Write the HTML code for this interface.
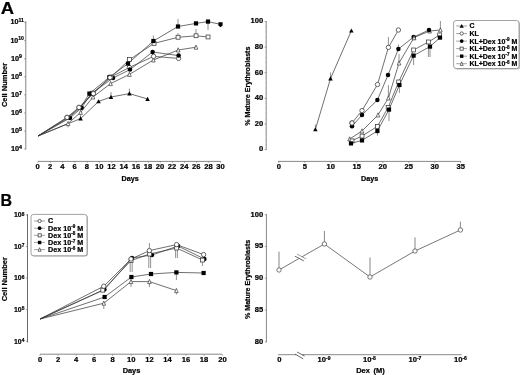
<!DOCTYPE html>
<html lang="en"><head><meta charset="utf-8"><title>Figure</title>
<style>html,body{margin:0;padding:0;background:#fff}svg{display:block;will-change:transform;transform:translateZ(0)}text{stroke:#000;stroke-width:.22px;stroke-linejoin:round}</style></head>
<body>
<svg width="520" height="375" viewBox="0 0 520 375" font-family='"Liberation Sans", sans-serif' font-weight="bold" fill="#000">
<rect width="520" height="375" fill="#fff"/>
<text x="0.0" y="0.0" font-size="16.8" text-anchor="start" transform="translate(0.7,13.6) scale(1.1,1)">A</text>
<text x="0.0" y="0.0" font-size="16.3" text-anchor="start" transform="translate(0.4,206) scale(0.98,1)">B</text>
<line x1="25.8" y1="21.0" x2="25.8" y2="149.5" stroke="#6a6a6a" stroke-width="0.8"/>
<line x1="24.2" y1="149.0" x2="25.8" y2="149.0" stroke="#6a6a6a" stroke-width="0.6"/>
<text x="10.9" y="150.9" font-size="7.6" text-anchor="start" textLength="11.1" lengthAdjust="spacingAndGlyphs">10<tspan font-size="5.5" dy="-2.2">4</tspan></text>
<line x1="24.9" y1="143.6" x2="25.8" y2="143.6" stroke="#999" stroke-width="0.4"/>
<line x1="24.9" y1="140.4" x2="25.8" y2="140.4" stroke="#999" stroke-width="0.4"/>
<line x1="24.9" y1="138.1" x2="25.8" y2="138.1" stroke="#999" stroke-width="0.4"/>
<line x1="24.9" y1="136.4" x2="25.8" y2="136.4" stroke="#999" stroke-width="0.4"/>
<line x1="24.9" y1="134.9" x2="25.8" y2="134.9" stroke="#999" stroke-width="0.4"/>
<line x1="24.9" y1="133.7" x2="25.8" y2="133.7" stroke="#999" stroke-width="0.4"/>
<line x1="24.9" y1="132.7" x2="25.8" y2="132.7" stroke="#999" stroke-width="0.4"/>
<line x1="24.9" y1="131.8" x2="25.8" y2="131.8" stroke="#999" stroke-width="0.4"/>
<line x1="24.2" y1="130.9" x2="25.8" y2="130.9" stroke="#6a6a6a" stroke-width="0.6"/>
<text x="10.9" y="132.8" font-size="7.6" text-anchor="start" textLength="11.1" lengthAdjust="spacingAndGlyphs">10<tspan font-size="5.5" dy="-2.2">5</tspan></text>
<line x1="24.9" y1="125.5" x2="25.8" y2="125.5" stroke="#999" stroke-width="0.4"/>
<line x1="24.9" y1="122.3" x2="25.8" y2="122.3" stroke="#999" stroke-width="0.4"/>
<line x1="24.9" y1="120.1" x2="25.8" y2="120.1" stroke="#999" stroke-width="0.4"/>
<line x1="24.9" y1="118.3" x2="25.8" y2="118.3" stroke="#999" stroke-width="0.4"/>
<line x1="24.9" y1="116.9" x2="25.8" y2="116.9" stroke="#999" stroke-width="0.4"/>
<line x1="24.9" y1="115.7" x2="25.8" y2="115.7" stroke="#999" stroke-width="0.4"/>
<line x1="24.9" y1="114.6" x2="25.8" y2="114.6" stroke="#999" stroke-width="0.4"/>
<line x1="24.9" y1="113.7" x2="25.8" y2="113.7" stroke="#999" stroke-width="0.4"/>
<line x1="24.2" y1="112.9" x2="25.8" y2="112.9" stroke="#6a6a6a" stroke-width="0.6"/>
<text x="10.9" y="114.8" font-size="7.6" text-anchor="start" textLength="11.1" lengthAdjust="spacingAndGlyphs">10<tspan font-size="5.5" dy="-2.2">6</tspan></text>
<line x1="24.9" y1="107.4" x2="25.8" y2="107.4" stroke="#999" stroke-width="0.4"/>
<line x1="24.9" y1="104.2" x2="25.8" y2="104.2" stroke="#999" stroke-width="0.4"/>
<line x1="24.9" y1="102.0" x2="25.8" y2="102.0" stroke="#999" stroke-width="0.4"/>
<line x1="24.9" y1="100.2" x2="25.8" y2="100.2" stroke="#999" stroke-width="0.4"/>
<line x1="24.9" y1="98.8" x2="25.8" y2="98.8" stroke="#999" stroke-width="0.4"/>
<line x1="24.9" y1="97.6" x2="25.8" y2="97.6" stroke="#999" stroke-width="0.4"/>
<line x1="24.9" y1="96.5" x2="25.8" y2="96.5" stroke="#999" stroke-width="0.4"/>
<line x1="24.9" y1="95.6" x2="25.8" y2="95.6" stroke="#999" stroke-width="0.4"/>
<line x1="24.2" y1="94.8" x2="25.8" y2="94.8" stroke="#6a6a6a" stroke-width="0.6"/>
<text x="10.9" y="96.7" font-size="7.6" text-anchor="start" textLength="11.1" lengthAdjust="spacingAndGlyphs">10<tspan font-size="5.5" dy="-2.2">7</tspan></text>
<line x1="24.9" y1="89.4" x2="25.8" y2="89.4" stroke="#999" stroke-width="0.4"/>
<line x1="24.9" y1="86.2" x2="25.8" y2="86.2" stroke="#999" stroke-width="0.4"/>
<line x1="24.9" y1="83.9" x2="25.8" y2="83.9" stroke="#999" stroke-width="0.4"/>
<line x1="24.9" y1="82.2" x2="25.8" y2="82.2" stroke="#999" stroke-width="0.4"/>
<line x1="24.9" y1="80.7" x2="25.8" y2="80.7" stroke="#999" stroke-width="0.4"/>
<line x1="24.9" y1="79.5" x2="25.8" y2="79.5" stroke="#999" stroke-width="0.4"/>
<line x1="24.9" y1="78.5" x2="25.8" y2="78.5" stroke="#999" stroke-width="0.4"/>
<line x1="24.9" y1="77.5" x2="25.8" y2="77.5" stroke="#999" stroke-width="0.4"/>
<line x1="24.2" y1="76.7" x2="25.8" y2="76.7" stroke="#6a6a6a" stroke-width="0.6"/>
<text x="10.9" y="78.6" font-size="7.6" text-anchor="start" textLength="11.1" lengthAdjust="spacingAndGlyphs">10<tspan font-size="5.5" dy="-2.2">8</tspan></text>
<line x1="24.9" y1="71.3" x2="25.8" y2="71.3" stroke="#999" stroke-width="0.4"/>
<line x1="24.9" y1="68.1" x2="25.8" y2="68.1" stroke="#999" stroke-width="0.4"/>
<line x1="24.9" y1="65.8" x2="25.8" y2="65.8" stroke="#999" stroke-width="0.4"/>
<line x1="24.9" y1="64.1" x2="25.8" y2="64.1" stroke="#999" stroke-width="0.4"/>
<line x1="24.9" y1="62.7" x2="25.8" y2="62.7" stroke="#999" stroke-width="0.4"/>
<line x1="24.9" y1="61.4" x2="25.8" y2="61.4" stroke="#999" stroke-width="0.4"/>
<line x1="24.9" y1="60.4" x2="25.8" y2="60.4" stroke="#999" stroke-width="0.4"/>
<line x1="24.9" y1="59.5" x2="25.8" y2="59.5" stroke="#999" stroke-width="0.4"/>
<line x1="24.2" y1="58.7" x2="25.8" y2="58.7" stroke="#6a6a6a" stroke-width="0.6"/>
<text x="10.9" y="60.6" font-size="7.6" text-anchor="start" textLength="11.1" lengthAdjust="spacingAndGlyphs">10<tspan font-size="5.5" dy="-2.2">9</tspan></text>
<line x1="24.9" y1="53.2" x2="25.8" y2="53.2" stroke="#999" stroke-width="0.4"/>
<line x1="24.9" y1="50.0" x2="25.8" y2="50.0" stroke="#999" stroke-width="0.4"/>
<line x1="24.9" y1="47.8" x2="25.8" y2="47.8" stroke="#999" stroke-width="0.4"/>
<line x1="24.9" y1="46.0" x2="25.8" y2="46.0" stroke="#999" stroke-width="0.4"/>
<line x1="24.9" y1="44.6" x2="25.8" y2="44.6" stroke="#999" stroke-width="0.4"/>
<line x1="24.9" y1="43.4" x2="25.8" y2="43.4" stroke="#999" stroke-width="0.4"/>
<line x1="24.9" y1="42.3" x2="25.8" y2="42.3" stroke="#999" stroke-width="0.4"/>
<line x1="24.9" y1="41.4" x2="25.8" y2="41.4" stroke="#999" stroke-width="0.4"/>
<line x1="24.2" y1="40.6" x2="25.8" y2="40.6" stroke="#6a6a6a" stroke-width="0.6"/>
<text x="10.4" y="42.5" font-size="7.6" text-anchor="start" textLength="13.5" lengthAdjust="spacingAndGlyphs">10<tspan font-size="5.5" dy="-2.2">10</tspan></text>
<line x1="24.9" y1="35.1" x2="25.8" y2="35.1" stroke="#999" stroke-width="0.4"/>
<line x1="24.9" y1="32.0" x2="25.8" y2="32.0" stroke="#999" stroke-width="0.4"/>
<line x1="24.9" y1="29.7" x2="25.8" y2="29.7" stroke="#999" stroke-width="0.4"/>
<line x1="24.9" y1="27.9" x2="25.8" y2="27.9" stroke="#999" stroke-width="0.4"/>
<line x1="24.9" y1="26.5" x2="25.8" y2="26.5" stroke="#999" stroke-width="0.4"/>
<line x1="24.9" y1="25.3" x2="25.8" y2="25.3" stroke="#999" stroke-width="0.4"/>
<line x1="24.9" y1="24.3" x2="25.8" y2="24.3" stroke="#999" stroke-width="0.4"/>
<line x1="24.9" y1="23.3" x2="25.8" y2="23.3" stroke="#999" stroke-width="0.4"/>
<line x1="24.2" y1="22.5" x2="25.8" y2="22.5" stroke="#6a6a6a" stroke-width="0.6"/>
<text x="10.4" y="24.4" font-size="7.6" text-anchor="start" textLength="13.5" lengthAdjust="spacingAndGlyphs">10<tspan font-size="5.5" dy="-2.2">11</tspan></text>
<line x1="38.0" y1="161.4" x2="220.6" y2="161.4" stroke="#6a6a6a" stroke-width="0.8"/>
<line x1="38.0" y1="161.4" x2="38.0" y2="162.8" stroke="#6a6a6a" stroke-width="0.6"/>
<text x="37.7" y="169.0" font-size="7.6" text-anchor="middle" >0</text>
<line x1="50.3" y1="161.4" x2="50.3" y2="162.8" stroke="#6a6a6a" stroke-width="0.6"/>
<text x="50.0" y="169.0" font-size="7.6" text-anchor="middle" >2</text>
<line x1="62.6" y1="161.4" x2="62.6" y2="162.8" stroke="#6a6a6a" stroke-width="0.6"/>
<text x="62.3" y="169.0" font-size="7.6" text-anchor="middle" >4</text>
<line x1="74.9" y1="161.4" x2="74.9" y2="162.8" stroke="#6a6a6a" stroke-width="0.6"/>
<text x="74.6" y="169.0" font-size="7.6" text-anchor="middle" >6</text>
<line x1="87.2" y1="161.4" x2="87.2" y2="162.8" stroke="#6a6a6a" stroke-width="0.6"/>
<text x="86.9" y="169.0" font-size="7.6" text-anchor="middle" >8</text>
<line x1="99.5" y1="161.4" x2="99.5" y2="162.8" stroke="#6a6a6a" stroke-width="0.6"/>
<text x="99.2" y="169.0" font-size="7.6" text-anchor="middle" >10</text>
<line x1="111.8" y1="161.4" x2="111.8" y2="162.8" stroke="#6a6a6a" stroke-width="0.6"/>
<text x="111.5" y="169.0" font-size="7.6" text-anchor="middle" >12</text>
<line x1="124.1" y1="161.4" x2="124.1" y2="162.8" stroke="#6a6a6a" stroke-width="0.6"/>
<text x="123.8" y="169.0" font-size="7.6" text-anchor="middle" >14</text>
<line x1="136.2" y1="161.4" x2="136.2" y2="162.8" stroke="#6a6a6a" stroke-width="0.6"/>
<text x="135.9" y="169.0" font-size="7.6" text-anchor="middle" >16</text>
<line x1="148.3" y1="161.4" x2="148.3" y2="162.8" stroke="#6a6a6a" stroke-width="0.6"/>
<text x="148.0" y="169.0" font-size="7.6" text-anchor="middle" >18</text>
<line x1="160.3" y1="161.4" x2="160.3" y2="162.8" stroke="#6a6a6a" stroke-width="0.6"/>
<text x="160.0" y="169.0" font-size="7.6" text-anchor="middle" >20</text>
<line x1="172.4" y1="161.4" x2="172.4" y2="162.8" stroke="#6a6a6a" stroke-width="0.6"/>
<text x="172.1" y="169.0" font-size="7.6" text-anchor="middle" >22</text>
<line x1="184.5" y1="161.4" x2="184.5" y2="162.8" stroke="#6a6a6a" stroke-width="0.6"/>
<text x="184.2" y="169.0" font-size="7.6" text-anchor="middle" >24</text>
<line x1="196.6" y1="161.4" x2="196.6" y2="162.8" stroke="#6a6a6a" stroke-width="0.6"/>
<text x="196.3" y="169.0" font-size="7.6" text-anchor="middle" >26</text>
<line x1="208.7" y1="161.4" x2="208.7" y2="162.8" stroke="#6a6a6a" stroke-width="0.6"/>
<text x="208.4" y="169.0" font-size="7.6" text-anchor="middle" >28</text>
<line x1="220.7" y1="161.4" x2="220.7" y2="162.8" stroke="#6a6a6a" stroke-width="0.6"/>
<text x="220.4" y="169.0" font-size="7.6" text-anchor="middle" >30</text>
<text x="130.2" y="180.9" font-size="7.2" text-anchor="middle" >Days</text>
<text x="0.0" y="0.0" font-size="7.5" text-anchor="middle" transform="translate(7.0,85) rotate(-90)">Cell Number</text>
<polyline points="38.0,136.0 80.6,118.6 98.6,101.4 111.0,97.0 129.4,93.6 147.6,99.0" fill="none" stroke="#383838" stroke-width="0.72" stroke-linejoin="round"/>
<line x1="80.6" y1="118.0" x2="80.6" y2="114.5" stroke="#555" stroke-width="0.65"/>
<line x1="111.0" y1="97.0" x2="111.0" y2="92.0" stroke="#555" stroke-width="0.65"/>
<line x1="129.4" y1="93.0" x2="129.4" y2="88.6" stroke="#555" stroke-width="0.65"/>
<polygon points="80.6,116.3 82.8,120.5 78.3,120.5" fill="#000"/>
<polygon points="98.6,99.2 100.8,103.3 96.3,103.3" fill="#000"/>
<polygon points="111.0,94.8 113.2,98.9 108.8,98.9" fill="#000"/>
<polygon points="129.4,91.3 131.7,95.5 127.2,95.5" fill="#000"/>
<polygon points="147.6,96.8 149.8,100.9 145.3,100.9" fill="#000"/>
<polyline points="38.0,136.0 68.0,123.6 80.6,112.4 93.0,97.0 110.6,83.6 129.4,74.4 153.4,60.0 178.2,50.0 196.0,47.2" fill="none" stroke="#383838" stroke-width="0.72" stroke-linejoin="round"/>
<line x1="68.0" y1="123.0" x2="68.0" y2="127.4" stroke="#555" stroke-width="0.65"/>
<polygon points="68.0,121.4 69.8,125.6 66.2,125.6" fill="#fff" stroke="#383838" stroke-width="0.7"/>
<polygon points="80.6,110.2 82.4,114.4 78.8,114.4" fill="#fff" stroke="#383838" stroke-width="0.7"/>
<polygon points="93.0,94.8 94.8,99.0 91.2,99.0" fill="#fff" stroke="#383838" stroke-width="0.7"/>
<polygon points="110.6,81.4 112.4,85.6 108.8,85.6" fill="#fff" stroke="#383838" stroke-width="0.7"/>
<polygon points="129.4,72.2 131.2,76.4 127.6,76.4" fill="#fff" stroke="#383838" stroke-width="0.7"/>
<polygon points="153.4,57.8 155.2,62.0 151.6,62.0" fill="#fff" stroke="#383838" stroke-width="0.7"/>
<polygon points="178.2,47.8 180.0,52.0 176.4,52.0" fill="#fff" stroke="#383838" stroke-width="0.7"/>
<polygon points="196.0,45.0 197.8,49.2 194.2,49.2" fill="#fff" stroke="#383838" stroke-width="0.7"/>
<polyline points="38.0,136.0 67.0,117.4 79.0,107.4 93.4,93.6 110.0,77.6 129.4,67.4 153.6,56.4 178.6,58.4" fill="none" stroke="#383838" stroke-width="0.72" stroke-linejoin="round"/>
<circle cx="67.0" cy="117.4" r="2.2" fill="#fff" stroke="#383838" stroke-width="0.75"/>
<circle cx="79.0" cy="107.4" r="2.2" fill="#fff" stroke="#383838" stroke-width="0.75"/>
<circle cx="93.4" cy="93.6" r="2.2" fill="#fff" stroke="#383838" stroke-width="0.75"/>
<circle cx="110.0" cy="77.6" r="2.2" fill="#fff" stroke="#383838" stroke-width="0.75"/>
<circle cx="129.4" cy="67.4" r="2.2" fill="#fff" stroke="#383838" stroke-width="0.75"/>
<circle cx="153.6" cy="56.4" r="2.2" fill="#fff" stroke="#383838" stroke-width="0.75"/>
<circle cx="178.6" cy="58.4" r="2.2" fill="#fff" stroke="#383838" stroke-width="0.75"/>
<polyline points="38.0,136.0 70.0,118.0 81.6,107.8 91.0,93.8 113.0,78.0 130.0,69.6 152.6,52.0 178.6,55.6" fill="none" stroke="#383838" stroke-width="0.72" stroke-linejoin="round"/>
<circle cx="70.0" cy="118.0" r="2.25" fill="#000"/>
<circle cx="81.6" cy="107.8" r="2.25" fill="#000"/>
<circle cx="91.0" cy="93.8" r="2.25" fill="#000"/>
<circle cx="113.0" cy="78.0" r="2.25" fill="#000"/>
<circle cx="130.0" cy="69.6" r="2.25" fill="#000"/>
<circle cx="152.6" cy="52.0" r="2.25" fill="#000"/>
<circle cx="178.6" cy="55.6" r="2.25" fill="#000"/>
<polyline points="38.0,136.0 68.0,117.2 80.0,107.2 92.6,93.2 111.0,77.0 129.6,59.6 154.0,43.4 178.0,37.3 196.0,35.8 208.0,37.0" fill="none" stroke="#383838" stroke-width="0.72" stroke-linejoin="round"/>
<line x1="178.0" y1="37.0" x2="178.0" y2="33.0" stroke="#555" stroke-width="0.65"/>
<line x1="196.0" y1="35.0" x2="196.0" y2="29.0" stroke="#555" stroke-width="0.65"/>
<rect x="90.6" y="91.2" width="3.9" height="3.9" fill="#fff" stroke="#383838" stroke-width="0.75"/>
<rect x="109.0" y="75.0" width="3.9" height="3.9" fill="#fff" stroke="#383838" stroke-width="0.75"/>
<rect x="127.6" y="57.6" width="3.9" height="3.9" fill="#fff" stroke="#383838" stroke-width="0.75"/>
<rect x="152.1" y="41.4" width="3.9" height="3.9" fill="#fff" stroke="#383838" stroke-width="0.75"/>
<rect x="176.1" y="35.3" width="3.9" height="3.9" fill="#fff" stroke="#383838" stroke-width="0.75"/>
<rect x="194.1" y="33.8" width="3.9" height="3.9" fill="#fff" stroke="#383838" stroke-width="0.75"/>
<rect x="206.1" y="35.0" width="3.9" height="3.9" fill="#fff" stroke="#383838" stroke-width="0.75"/>
<polyline points="208.0,21.6 220.5,24.4" fill="none" stroke="#383838" stroke-width="0.72" stroke-linejoin="round"/>
<polygon points="218.4,22.2 222.6,22.2 222.6,25.4 220.5,27.2 218.4,25.4" fill="#000"/>
<polyline points="38.0,136.0 68.6,117.8 80.4,107.8 89.4,93.6 109.4,77.2 128.0,63.6 153.4,41.0 178.0,26.5 196.0,23.4 208.0,21.6" fill="none" stroke="#383838" stroke-width="0.72" stroke-linejoin="round"/>
<line x1="153.4" y1="41.0" x2="153.4" y2="35.5" stroke="#555" stroke-width="0.65"/>
<line x1="178.0" y1="26.0" x2="178.0" y2="19.0" stroke="#555" stroke-width="0.65"/>
<line x1="208.0" y1="22.0" x2="208.0" y2="30.0" stroke="#555" stroke-width="0.65"/>
<rect x="87.3" y="91.5" width="4.2" height="4.2" fill="#000"/>
<rect x="107.3" y="75.1" width="4.2" height="4.2" fill="#000"/>
<rect x="125.9" y="61.5" width="4.2" height="4.2" fill="#000"/>
<rect x="151.3" y="38.9" width="4.2" height="4.2" fill="#000"/>
<rect x="175.9" y="24.4" width="4.2" height="4.2" fill="#000"/>
<rect x="193.9" y="21.3" width="4.2" height="4.2" fill="#000"/>
<rect x="205.9" y="19.5" width="4.2" height="4.2" fill="#000"/>
<circle cx="67.0" cy="117.4" r="2.2" fill="#fff" stroke="#383838" stroke-width="0.75"/>
<circle cx="79.0" cy="107.4" r="2.2" fill="#fff" stroke="#383838" stroke-width="0.75"/>
<circle cx="93.4" cy="93.6" r="2.2" fill="#fff" stroke="#383838" stroke-width="0.75"/>
<circle cx="110.0" cy="77.6" r="2.2" fill="#fff" stroke="#383838" stroke-width="0.75"/>
<line x1="266.2" y1="21.0" x2="266.2" y2="150.0" stroke="#6a6a6a" stroke-width="0.8"/>
<line x1="264.6" y1="149.6" x2="266.2" y2="149.6" stroke="#6a6a6a" stroke-width="0.6"/>
<text x="263.2" y="151.4" font-size="7.6" text-anchor="end" >0</text>
<line x1="264.6" y1="124.0" x2="266.2" y2="124.0" stroke="#6a6a6a" stroke-width="0.6"/>
<text x="263.2" y="125.8" font-size="7.6" text-anchor="end" >20</text>
<line x1="264.6" y1="98.4" x2="266.2" y2="98.4" stroke="#6a6a6a" stroke-width="0.6"/>
<text x="263.2" y="100.2" font-size="7.6" text-anchor="end" >40</text>
<line x1="264.6" y1="72.7" x2="266.2" y2="72.7" stroke="#6a6a6a" stroke-width="0.6"/>
<text x="263.2" y="74.5" font-size="7.6" text-anchor="end" >60</text>
<line x1="264.6" y1="47.1" x2="266.2" y2="47.1" stroke="#6a6a6a" stroke-width="0.6"/>
<text x="263.2" y="48.9" font-size="7.6" text-anchor="end" >80</text>
<line x1="264.6" y1="21.5" x2="266.2" y2="21.5" stroke="#6a6a6a" stroke-width="0.6"/>
<text x="263.2" y="23.3" font-size="7.6" text-anchor="end" >100</text>
<line x1="265.3" y1="149.6" x2="266.2" y2="149.6" stroke="#999" stroke-width="0.4"/>
<line x1="265.3" y1="144.5" x2="266.2" y2="144.5" stroke="#999" stroke-width="0.4"/>
<line x1="265.3" y1="139.4" x2="266.2" y2="139.4" stroke="#999" stroke-width="0.4"/>
<line x1="265.3" y1="134.2" x2="266.2" y2="134.2" stroke="#999" stroke-width="0.4"/>
<line x1="265.3" y1="129.1" x2="266.2" y2="129.1" stroke="#999" stroke-width="0.4"/>
<line x1="265.3" y1="124.0" x2="266.2" y2="124.0" stroke="#999" stroke-width="0.4"/>
<line x1="265.3" y1="118.9" x2="266.2" y2="118.9" stroke="#999" stroke-width="0.4"/>
<line x1="265.3" y1="113.7" x2="266.2" y2="113.7" stroke="#999" stroke-width="0.4"/>
<line x1="265.3" y1="108.6" x2="266.2" y2="108.6" stroke="#999" stroke-width="0.4"/>
<line x1="265.3" y1="103.5" x2="266.2" y2="103.5" stroke="#999" stroke-width="0.4"/>
<line x1="265.3" y1="98.4" x2="266.2" y2="98.4" stroke="#999" stroke-width="0.4"/>
<line x1="265.3" y1="93.2" x2="266.2" y2="93.2" stroke="#999" stroke-width="0.4"/>
<line x1="265.3" y1="88.1" x2="266.2" y2="88.1" stroke="#999" stroke-width="0.4"/>
<line x1="265.3" y1="83.0" x2="266.2" y2="83.0" stroke="#999" stroke-width="0.4"/>
<line x1="265.3" y1="77.9" x2="266.2" y2="77.9" stroke="#999" stroke-width="0.4"/>
<line x1="265.3" y1="72.7" x2="266.2" y2="72.7" stroke="#999" stroke-width="0.4"/>
<line x1="265.3" y1="67.6" x2="266.2" y2="67.6" stroke="#999" stroke-width="0.4"/>
<line x1="265.3" y1="62.5" x2="266.2" y2="62.5" stroke="#999" stroke-width="0.4"/>
<line x1="265.3" y1="57.4" x2="266.2" y2="57.4" stroke="#999" stroke-width="0.4"/>
<line x1="265.3" y1="52.2" x2="266.2" y2="52.2" stroke="#999" stroke-width="0.4"/>
<line x1="265.3" y1="47.1" x2="266.2" y2="47.1" stroke="#999" stroke-width="0.4"/>
<line x1="265.3" y1="42.0" x2="266.2" y2="42.0" stroke="#999" stroke-width="0.4"/>
<line x1="265.3" y1="36.9" x2="266.2" y2="36.9" stroke="#999" stroke-width="0.4"/>
<line x1="265.3" y1="31.7" x2="266.2" y2="31.7" stroke="#999" stroke-width="0.4"/>
<line x1="265.3" y1="26.6" x2="266.2" y2="26.6" stroke="#999" stroke-width="0.4"/>
<line x1="278.0" y1="161.4" x2="461.0" y2="161.4" stroke="#6a6a6a" stroke-width="0.8"/>
<line x1="278.8" y1="161.6" x2="278.8" y2="163.0" stroke="#6a6a6a" stroke-width="0.6"/>
<text x="278.8" y="169.2" font-size="7.6" text-anchor="middle" >0</text>
<line x1="304.8" y1="161.6" x2="304.8" y2="163.0" stroke="#6a6a6a" stroke-width="0.6"/>
<text x="304.8" y="169.2" font-size="7.6" text-anchor="middle" >5</text>
<line x1="330.8" y1="161.6" x2="330.8" y2="163.0" stroke="#6a6a6a" stroke-width="0.6"/>
<text x="330.8" y="169.2" font-size="7.6" text-anchor="middle" >10</text>
<line x1="356.8" y1="161.6" x2="356.8" y2="163.0" stroke="#6a6a6a" stroke-width="0.6"/>
<text x="356.8" y="169.2" font-size="7.6" text-anchor="middle" >15</text>
<line x1="382.8" y1="161.6" x2="382.8" y2="163.0" stroke="#6a6a6a" stroke-width="0.6"/>
<text x="382.8" y="169.2" font-size="7.6" text-anchor="middle" >20</text>
<line x1="408.8" y1="161.6" x2="408.8" y2="163.0" stroke="#6a6a6a" stroke-width="0.6"/>
<text x="408.8" y="169.2" font-size="7.6" text-anchor="middle" >25</text>
<line x1="434.8" y1="161.6" x2="434.8" y2="163.0" stroke="#6a6a6a" stroke-width="0.6"/>
<text x="434.8" y="169.2" font-size="7.6" text-anchor="middle" >30</text>
<line x1="460.8" y1="161.6" x2="460.8" y2="163.0" stroke="#6a6a6a" stroke-width="0.6"/>
<text x="460.8" y="169.2" font-size="7.6" text-anchor="middle" >35</text>
<text x="369.7" y="180.9" font-size="7.2" text-anchor="middle" >Days</text>
<text x="0.0" y="0.0" font-size="7.1" text-anchor="middle" transform="translate(250.0,86.2) rotate(-90)">% Mature Erythroblasts</text>
<polyline points="315.4,129.4 330.5,78.6 351.4,30.6" fill="none" stroke="#383838" stroke-width="0.72" stroke-linejoin="round"/>
<line x1="315.4" y1="129.0" x2="315.4" y2="124.5" stroke="#555" stroke-width="0.65"/>
<line x1="330.6" y1="78.0" x2="330.6" y2="72.5" stroke="#555" stroke-width="0.65"/>
<polygon points="315.4,127.2 317.6,131.3 313.1,131.3" fill="#000"/>
<polygon points="330.5,76.3 332.8,80.5 328.2,80.5" fill="#000"/>
<polygon points="351.4,28.4 353.6,32.5 349.1,32.5" fill="#000"/>
<polyline points="349.6,139.0 362.0,131.0 378.0,115.0 388.4,98.0 399.0,63.0 414.0,37.6 429.6,31.0 440.4,30.0" fill="none" stroke="#383838" stroke-width="0.72" stroke-linejoin="round"/>
<line x1="388.4" y1="98.0" x2="388.4" y2="85.0" stroke="#555" stroke-width="0.65"/>
<line x1="399.0" y1="63.0" x2="399.0" y2="54.0" stroke="#555" stroke-width="0.65"/>
<line x1="440.4" y1="30.0" x2="440.4" y2="21.0" stroke="#555" stroke-width="0.65"/>
<polygon points="349.6,136.8 351.4,141.0 347.8,141.0" fill="#fff" stroke="#383838" stroke-width="0.7"/>
<polygon points="362.0,128.8 363.8,133.0 360.2,133.0" fill="#fff" stroke="#383838" stroke-width="0.7"/>
<polygon points="378.0,112.8 379.8,117.0 376.2,117.0" fill="#fff" stroke="#383838" stroke-width="0.7"/>
<polygon points="388.4,95.8 390.2,100.0 386.6,100.0" fill="#fff" stroke="#383838" stroke-width="0.7"/>
<polygon points="399.0,60.8 400.8,65.0 397.2,65.0" fill="#fff" stroke="#383838" stroke-width="0.7"/>
<polygon points="414.0,35.4 415.8,39.6 412.2,39.6" fill="#fff" stroke="#383838" stroke-width="0.7"/>
<polygon points="429.6,28.8 431.4,33.0 427.8,33.0" fill="#fff" stroke="#383838" stroke-width="0.7"/>
<polygon points="440.4,27.8 442.2,32.0 438.6,32.0" fill="#fff" stroke="#383838" stroke-width="0.7"/>
<polyline points="352.0,140.8 362.0,136.0 377.4,126.4 388.2,107.4 398.6,82.0 413.6,50.0 428.4,42.0 439.6,35.0" fill="none" stroke="#383838" stroke-width="0.72" stroke-linejoin="round"/>
<line x1="428.4" y1="42.0" x2="428.4" y2="57.0" stroke="#555" stroke-width="0.65"/>
<rect x="350.1" y="138.9" width="3.9" height="3.9" fill="#fff" stroke="#383838" stroke-width="0.75"/>
<rect x="360.1" y="134.1" width="3.9" height="3.9" fill="#fff" stroke="#383838" stroke-width="0.75"/>
<rect x="375.4" y="124.5" width="3.9" height="3.9" fill="#fff" stroke="#383838" stroke-width="0.75"/>
<rect x="386.2" y="105.5" width="3.9" height="3.9" fill="#fff" stroke="#383838" stroke-width="0.75"/>
<rect x="396.7" y="80.0" width="3.9" height="3.9" fill="#fff" stroke="#383838" stroke-width="0.75"/>
<rect x="411.7" y="48.0" width="3.9" height="3.9" fill="#fff" stroke="#383838" stroke-width="0.75"/>
<rect x="426.4" y="40.0" width="3.9" height="3.9" fill="#fff" stroke="#383838" stroke-width="0.75"/>
<rect x="437.7" y="33.0" width="3.9" height="3.9" fill="#fff" stroke="#383838" stroke-width="0.75"/>
<polyline points="351.0,143.4 362.0,140.4 377.4,131.0 389.0,109.6 399.4,85.0 413.6,55.6 430.0,46.6 440.0,37.6" fill="none" stroke="#383838" stroke-width="0.72" stroke-linejoin="round"/>
<line x1="377.4" y1="131.0" x2="377.4" y2="135.6" stroke="#555" stroke-width="0.65"/>
<line x1="389.0" y1="110.0" x2="389.0" y2="121.0" stroke="#555" stroke-width="0.65"/>
<line x1="399.4" y1="85.0" x2="399.4" y2="93.0" stroke="#555" stroke-width="0.65"/>
<line x1="413.6" y1="56.0" x2="413.6" y2="65.0" stroke="#555" stroke-width="0.65"/>
<line x1="430.0" y1="47.0" x2="430.0" y2="57.0" stroke="#555" stroke-width="0.65"/>
<rect x="348.9" y="141.3" width="4.2" height="4.2" fill="#000"/>
<rect x="359.9" y="138.3" width="4.2" height="4.2" fill="#000"/>
<rect x="375.3" y="128.9" width="4.2" height="4.2" fill="#000"/>
<rect x="386.9" y="107.5" width="4.2" height="4.2" fill="#000"/>
<rect x="397.3" y="82.9" width="4.2" height="4.2" fill="#000"/>
<rect x="411.5" y="53.5" width="4.2" height="4.2" fill="#000"/>
<rect x="427.9" y="44.5" width="4.2" height="4.2" fill="#000"/>
<rect x="437.9" y="35.5" width="4.2" height="4.2" fill="#000"/>
<polyline points="352.0,123.0 362.0,110.6 377.5,84.5 388.4,47.4 398.4,30.0" fill="none" stroke="#383838" stroke-width="0.72" stroke-linejoin="round"/>
<line x1="388.4" y1="47.0" x2="388.4" y2="37.0" stroke="#555" stroke-width="0.65"/>
<circle cx="352.0" cy="123.0" r="2.2" fill="#fff" stroke="#383838" stroke-width="0.75"/>
<circle cx="362.0" cy="110.6" r="2.2" fill="#fff" stroke="#383838" stroke-width="0.75"/>
<circle cx="377.5" cy="84.5" r="2.2" fill="#fff" stroke="#383838" stroke-width="0.75"/>
<circle cx="388.4" cy="47.4" r="2.2" fill="#fff" stroke="#383838" stroke-width="0.75"/>
<circle cx="398.4" cy="30.0" r="2.2" fill="#fff" stroke="#383838" stroke-width="0.75"/>
<polyline points="352.0,126.2 362.0,115.0 377.4,100.0 388.0,75.0 398.4,49.0 413.6,37.0 429.0,30.0" fill="none" stroke="#383838" stroke-width="0.72" stroke-linejoin="round"/>
<line x1="398.4" y1="49.0" x2="398.4" y2="44.5" stroke="#555" stroke-width="0.65"/>
<circle cx="352.0" cy="126.2" r="2.25" fill="#000"/>
<circle cx="362.0" cy="115.0" r="2.25" fill="#000"/>
<circle cx="377.4" cy="100.0" r="2.25" fill="#000"/>
<circle cx="388.0" cy="75.0" r="2.25" fill="#000"/>
<circle cx="398.4" cy="49.0" r="2.25" fill="#000"/>
<circle cx="413.6" cy="37.0" r="2.25" fill="#000"/>
<circle cx="429.0" cy="30.0" r="2.25" fill="#000"/>
<circle cx="352.0" cy="123.0" r="2.2" fill="#fff" stroke="#383838" stroke-width="0.75"/>
<polygon points="414.0,35.6 415.8,39.8 412.2,39.8" fill="#fff" stroke="#383838" stroke-width="0.7"/>
<rect x="454.6" y="21.4" width="65.4" height="48" rx="2.5" fill="#bbb"/>
<rect x="453.6" y="20.5" width="65.4" height="48" rx="2.5" fill="#fff" stroke="#8a8a8a" stroke-width="0.8"/>
<line x1="456.2" y1="26.0" x2="467.0" y2="26.0" stroke="#666" stroke-width="0.6"/>
<polygon points="461.7,23.9 463.8,27.7 459.6,27.7" fill="#000"/>
<text x="469.4" y="28.4" font-size="7.0" text-anchor="start" >C</text>
<line x1="456.2" y1="33.5" x2="467.0" y2="33.5" stroke="#666" stroke-width="0.6"/>
<circle cx="461.7" cy="33.5" r="1.65" fill="#fff" stroke="#383838" stroke-width="0.75"/>
<text x="469.4" y="35.9" font-size="7.0" text-anchor="start" >KL</text>
<line x1="456.2" y1="41.1" x2="467.0" y2="41.1" stroke="#666" stroke-width="0.6"/>
<circle cx="461.7" cy="41.1" r="1.85" fill="#000"/>
<text x="469.4" y="43.5" font-size="7.0" text-anchor="start" >KL+Dex 10<tspan font-size="4.6" dy="-2.2">-9</tspan><tspan dy="2.2"> M</tspan></text>
<line x1="456.2" y1="48.6" x2="467.0" y2="48.6" stroke="#666" stroke-width="0.6"/>
<rect x="460.1" y="47.1" width="3.1" height="3.1" fill="#fff" stroke="#383838" stroke-width="0.75"/>
<text x="469.4" y="51.0" font-size="7.0" text-anchor="start" >KL+Dex 10<tspan font-size="4.6" dy="-2.2">-8</tspan><tspan dy="2.2"> M</tspan></text>
<line x1="456.2" y1="56.2" x2="467.0" y2="56.2" stroke="#666" stroke-width="0.6"/>
<rect x="460.0" y="54.5" width="3.4" height="3.4" fill="#000"/>
<text x="469.4" y="58.6" font-size="7.0" text-anchor="start" >KL+Dex 10<tspan font-size="4.6" dy="-2.2">-7</tspan><tspan dy="2.2"> M</tspan></text>
<line x1="456.2" y1="63.7" x2="467.0" y2="63.7" stroke="#666" stroke-width="0.6"/>
<polygon points="461.7,61.8 463.2,65.4 460.2,65.4" fill="#fff" stroke="#383838" stroke-width="0.7"/>
<text x="469.4" y="66.1" font-size="7.0" text-anchor="start" >KL+Dex 10<tspan font-size="4.6" dy="-2.2">-6</tspan><tspan dy="2.2"> M</tspan></text>
<line x1="27.5" y1="214.0" x2="27.5" y2="342.4" stroke="#5a5a5a" stroke-width="0.9"/>
<line x1="25.9" y1="341.2" x2="27.5" y2="341.2" stroke="#6a6a6a" stroke-width="0.6"/>
<text x="14.0" y="343.5" font-size="7.6" text-anchor="start" textLength="10.4" lengthAdjust="spacingAndGlyphs">10<tspan font-size="5.3" dy="-1.8">4</tspan></text>
<line x1="25.9" y1="309.6" x2="27.5" y2="309.6" stroke="#6a6a6a" stroke-width="0.6"/>
<text x="14.0" y="311.9" font-size="7.6" text-anchor="start" textLength="10.4" lengthAdjust="spacingAndGlyphs">10<tspan font-size="5.3" dy="-1.8">5</tspan></text>
<line x1="25.9" y1="278.1" x2="27.5" y2="278.1" stroke="#6a6a6a" stroke-width="0.6"/>
<text x="14.0" y="280.4" font-size="7.6" text-anchor="start" textLength="10.4" lengthAdjust="spacingAndGlyphs">10<tspan font-size="5.3" dy="-1.8">6</tspan></text>
<line x1="25.9" y1="246.5" x2="27.5" y2="246.5" stroke="#6a6a6a" stroke-width="0.6"/>
<text x="14.0" y="248.8" font-size="7.6" text-anchor="start" textLength="10.4" lengthAdjust="spacingAndGlyphs">10<tspan font-size="5.3" dy="-1.8">7</tspan></text>
<line x1="25.9" y1="215.0" x2="27.5" y2="215.0" stroke="#6a6a6a" stroke-width="0.6"/>
<text x="14.0" y="217.3" font-size="7.6" text-anchor="start" textLength="10.4" lengthAdjust="spacingAndGlyphs">10<tspan font-size="5.3" dy="-1.8">8</tspan></text>
<line x1="40.0" y1="354.2" x2="222.0" y2="354.2" stroke="#6a6a6a" stroke-width="0.8"/>
<text x="40.0" y="362.2" font-size="7.6" text-anchor="middle" >0</text>
<line x1="40.0" y1="354.4" x2="40.0" y2="355.8" stroke="#6a6a6a" stroke-width="0.6"/>
<text x="58.0" y="362.2" font-size="7.6" text-anchor="middle" >2</text>
<line x1="58.0" y1="354.4" x2="58.0" y2="355.8" stroke="#6a6a6a" stroke-width="0.6"/>
<text x="76.0" y="362.2" font-size="7.6" text-anchor="middle" >4</text>
<line x1="76.0" y1="354.4" x2="76.0" y2="355.8" stroke="#6a6a6a" stroke-width="0.6"/>
<text x="94.0" y="362.2" font-size="7.6" text-anchor="middle" >6</text>
<line x1="94.0" y1="354.4" x2="94.0" y2="355.8" stroke="#6a6a6a" stroke-width="0.6"/>
<text x="112.6" y="362.2" font-size="7.6" text-anchor="middle" >8</text>
<line x1="112.6" y1="354.4" x2="112.6" y2="355.8" stroke="#6a6a6a" stroke-width="0.6"/>
<text x="131.2" y="362.2" font-size="7.6" text-anchor="middle" >10</text>
<line x1="131.2" y1="354.4" x2="131.2" y2="355.8" stroke="#6a6a6a" stroke-width="0.6"/>
<text x="149.4" y="362.2" font-size="7.6" text-anchor="middle" >12</text>
<line x1="149.4" y1="354.4" x2="149.4" y2="355.8" stroke="#6a6a6a" stroke-width="0.6"/>
<text x="167.6" y="362.2" font-size="7.6" text-anchor="middle" >14</text>
<line x1="167.6" y1="354.4" x2="167.6" y2="355.8" stroke="#6a6a6a" stroke-width="0.6"/>
<text x="185.9" y="362.2" font-size="7.6" text-anchor="middle" >16</text>
<line x1="185.9" y1="354.4" x2="185.9" y2="355.8" stroke="#6a6a6a" stroke-width="0.6"/>
<text x="204.0" y="362.2" font-size="7.6" text-anchor="middle" >18</text>
<line x1="204.0" y1="354.4" x2="204.0" y2="355.8" stroke="#6a6a6a" stroke-width="0.6"/>
<text x="222.6" y="362.2" font-size="7.6" text-anchor="middle" >20</text>
<line x1="222.6" y1="354.4" x2="222.6" y2="355.8" stroke="#6a6a6a" stroke-width="0.6"/>
<text x="131.5" y="373.3" font-size="7.4" text-anchor="middle" >Days</text>
<text x="0.0" y="0.0" font-size="7.5" text-anchor="middle" transform="translate(7.0,279.2) rotate(-90)">Cell Number</text>
<polyline points="40.0,319.0 103.8,303.2 131.0,281.6 149.4,281.6 176.4,290.6" fill="none" stroke="#383838" stroke-width="0.72" stroke-linejoin="round"/>
<line x1="103.8" y1="304.0" x2="103.8" y2="309.0" stroke="#555" stroke-width="0.65"/>
<line x1="131.0" y1="282.0" x2="131.0" y2="287.0" stroke="#555" stroke-width="0.65"/>
<line x1="149.4" y1="282.0" x2="149.4" y2="287.0" stroke="#555" stroke-width="0.65"/>
<line x1="176.4" y1="291.0" x2="176.4" y2="294.5" stroke="#555" stroke-width="0.65"/>
<polygon points="103.8,301.0 105.6,305.2 102.0,305.2" fill="#fff" stroke="#383838" stroke-width="0.7"/>
<polygon points="131.0,279.4 132.8,283.6 129.2,283.6" fill="#fff" stroke="#383838" stroke-width="0.7"/>
<polygon points="149.4,279.4 151.2,283.6 147.6,283.6" fill="#fff" stroke="#383838" stroke-width="0.7"/>
<polygon points="176.4,288.4 178.2,292.6 174.6,292.6" fill="#fff" stroke="#383838" stroke-width="0.7"/>
<polyline points="40.0,319.0 104.6,297.0 131.4,277.0 151.0,274.0 176.4,272.4 203.6,273.0" fill="none" stroke="#383838" stroke-width="0.72" stroke-linejoin="round"/>
<line x1="176.4" y1="273.0" x2="176.4" y2="280.0" stroke="#555" stroke-width="0.65"/>
<rect x="102.5" y="294.9" width="4.2" height="4.2" fill="#000"/>
<rect x="129.3" y="274.9" width="4.2" height="4.2" fill="#000"/>
<rect x="148.9" y="271.9" width="4.2" height="4.2" fill="#000"/>
<rect x="174.3" y="270.3" width="4.2" height="4.2" fill="#000"/>
<rect x="201.5" y="270.9" width="4.2" height="4.2" fill="#000"/>
<polyline points="40.0,319.0 104.4,289.6 132.0,258.0 152.0,255.0 178.0,246.0 204.4,259.0" fill="none" stroke="#383838" stroke-width="0.72" stroke-linejoin="round"/>
<line x1="132.2" y1="258.0" x2="132.2" y2="272.0" stroke="#555" stroke-width="0.65"/>
<line x1="150.6" y1="255.0" x2="150.6" y2="268.0" stroke="#555" stroke-width="0.65"/>
<line x1="177.4" y1="246.0" x2="177.4" y2="258.0" stroke="#555" stroke-width="0.65"/>
<circle cx="104.4" cy="289.6" r="2.25" fill="#000"/>
<circle cx="132.0" cy="258.0" r="2.25" fill="#000"/>
<circle cx="152.0" cy="255.0" r="2.25" fill="#000"/>
<circle cx="178.0" cy="246.0" r="2.25" fill="#000"/>
<circle cx="204.4" cy="259.0" r="2.25" fill="#000"/>
<polyline points="40.0,319.0 102.8,290.2 131.0,260.6 149.6,254.0 176.6,248.0 202.4,260.0" fill="none" stroke="#383838" stroke-width="0.72" stroke-linejoin="round"/>
<line x1="130.2" y1="261.0" x2="130.2" y2="272.0" stroke="#555" stroke-width="0.65"/>
<line x1="148.8" y1="254.0" x2="148.8" y2="268.0" stroke="#555" stroke-width="0.65"/>
<line x1="175.6" y1="248.0" x2="175.6" y2="258.0" stroke="#555" stroke-width="0.65"/>
<line x1="202.4" y1="260.0" x2="202.4" y2="266.0" stroke="#555" stroke-width="0.65"/>
<rect x="100.8" y="288.2" width="3.9" height="3.9" fill="#fff" stroke="#383838" stroke-width="0.75"/>
<rect x="129.1" y="258.7" width="3.9" height="3.9" fill="#fff" stroke="#383838" stroke-width="0.75"/>
<rect x="147.7" y="252.1" width="3.9" height="3.9" fill="#fff" stroke="#383838" stroke-width="0.75"/>
<rect x="174.7" y="246.1" width="3.9" height="3.9" fill="#fff" stroke="#383838" stroke-width="0.75"/>
<rect x="200.5" y="258.1" width="3.9" height="3.9" fill="#fff" stroke="#383838" stroke-width="0.75"/>
<polyline points="40.0,319.0 103.8,286.2 131.0,259.0 149.4,250.6 176.6,244.6 203.6,254.6" fill="none" stroke="#383838" stroke-width="0.72" stroke-linejoin="round"/>
<line x1="149.4" y1="250.0" x2="149.4" y2="243.0" stroke="#555" stroke-width="0.65"/>
<circle cx="103.8" cy="286.2" r="2.2" fill="#fff" stroke="#383838" stroke-width="0.75"/>
<circle cx="131.0" cy="259.0" r="2.2" fill="#fff" stroke="#383838" stroke-width="0.75"/>
<circle cx="149.4" cy="250.6" r="2.2" fill="#fff" stroke="#383838" stroke-width="0.75"/>
<circle cx="176.6" cy="244.6" r="2.2" fill="#fff" stroke="#383838" stroke-width="0.75"/>
<circle cx="203.6" cy="254.6" r="2.2" fill="#fff" stroke="#383838" stroke-width="0.75"/>
<rect x="31.9" y="215.2" width="56" height="41.4" rx="2.5" fill="#bbb"/>
<rect x="31.0" y="214.4" width="56" height="41.4" rx="2.5" fill="#fff" stroke="#8a8a8a" stroke-width="0.8"/>
<line x1="34.0" y1="221.0" x2="45.0" y2="221.0" stroke="#666" stroke-width="0.6"/>
<circle cx="39.6" cy="221.0" r="1.65" fill="#fff" stroke="#383838" stroke-width="0.75"/>
<text x="48.0" y="223.3" font-size="7.2" text-anchor="start" >C</text>
<line x1="34.0" y1="228.2" x2="45.0" y2="228.2" stroke="#666" stroke-width="0.6"/>
<circle cx="39.6" cy="228.2" r="1.85" fill="#000"/>
<text x="48.0" y="230.5" font-size="7.2" text-anchor="start" >Dex 10<tspan font-size="4.6" dy="-2.2">-9</tspan><tspan dy="2.2"> M</tspan></text>
<line x1="34.0" y1="235.3" x2="45.0" y2="235.3" stroke="#666" stroke-width="0.6"/>
<rect x="38.1" y="233.8" width="3.1" height="3.1" fill="#fff" stroke="#383838" stroke-width="0.75"/>
<text x="48.0" y="237.6" font-size="7.2" text-anchor="start" >Dex 10<tspan font-size="4.6" dy="-2.2">-8</tspan><tspan dy="2.2"> M</tspan></text>
<line x1="34.0" y1="242.4" x2="45.0" y2="242.4" stroke="#666" stroke-width="0.6"/>
<rect x="37.9" y="240.8" width="3.4" height="3.4" fill="#000"/>
<text x="48.0" y="244.8" font-size="7.2" text-anchor="start" >Dex 10<tspan font-size="4.6" dy="-2.2">-7</tspan><tspan dy="2.2"> M</tspan></text>
<line x1="34.0" y1="249.6" x2="45.0" y2="249.6" stroke="#666" stroke-width="0.6"/>
<polygon points="39.6,247.7 41.1,251.3 38.1,251.3" fill="#fff" stroke="#383838" stroke-width="0.7"/>
<text x="48.0" y="251.9" font-size="7.2" text-anchor="start" >Dex 10<tspan font-size="4.6" dy="-2.2">-6</tspan><tspan dy="2.2"> M</tspan></text>
<line x1="266.4" y1="214.0" x2="266.4" y2="342.4" stroke="#6a6a6a" stroke-width="0.8"/>
<line x1="264.8" y1="341.8" x2="266.4" y2="341.8" stroke="#6a6a6a" stroke-width="0.6"/>
<text x="263.2" y="343.7" font-size="7.6" text-anchor="end" >80</text>
<line x1="264.8" y1="310.0" x2="266.4" y2="310.0" stroke="#6a6a6a" stroke-width="0.6"/>
<text x="263.2" y="311.9" font-size="7.6" text-anchor="end" >85</text>
<line x1="264.8" y1="278.2" x2="266.4" y2="278.2" stroke="#6a6a6a" stroke-width="0.6"/>
<text x="263.2" y="280.1" font-size="7.6" text-anchor="end" >90</text>
<line x1="264.8" y1="246.5" x2="266.4" y2="246.5" stroke="#6a6a6a" stroke-width="0.6"/>
<text x="263.2" y="248.4" font-size="7.6" text-anchor="end" >95</text>
<line x1="264.8" y1="214.7" x2="266.4" y2="214.7" stroke="#6a6a6a" stroke-width="0.6"/>
<text x="263.2" y="216.6" font-size="7.6" text-anchor="end" >100</text>
<line x1="278.0" y1="354.7" x2="296.4" y2="354.7" stroke="#6a6a6a" stroke-width="0.8"/>
<line x1="302.4" y1="354.7" x2="461.5" y2="354.7" stroke="#6a6a6a" stroke-width="0.8"/>
<line x1="295.0" y1="354.1" x2="303.2" y2="358.8" stroke="#383838" stroke-width="0.75"/>
<line x1="297.0" y1="352.0" x2="304.6" y2="356.1" stroke="#383838" stroke-width="0.75"/>
<text x="279.4" y="362.2" font-size="7.6" text-anchor="middle" >0</text>
<text x="324.0" y="362.2" font-size="7.6" text-anchor="middle" >10<tspan font-size="5.0" dy="-2.4">-9</tspan></text>
<text x="369.4" y="362.2" font-size="7.6" text-anchor="middle" >10<tspan font-size="5.0" dy="-2.4">-8</tspan></text>
<text x="414.9" y="362.2" font-size="7.6" text-anchor="middle" >10<tspan font-size="5.0" dy="-2.4">-7</tspan></text>
<text x="460.4" y="362.2" font-size="7.6" text-anchor="middle" >10<tspan font-size="5.0" dy="-2.4">-6</tspan></text>
<text x="370.4" y="373.3" font-size="7.5" text-anchor="middle" word-spacing="1.4">Dex (M)</text>
<text x="0.0" y="0.0" font-size="7.1" text-anchor="middle" transform="translate(250.0,279.4) rotate(-90)">% Mature Erythroblasts</text>
<polyline points="279.0,270.0 298.8,258.6" fill="none" stroke="#555" stroke-width="0.8" stroke-linejoin="round"/>
<polyline points="302.0,256.8 324.4,244.0 370.0,277.0 415.0,251.0 460.4,230.0" fill="none" stroke="#555" stroke-width="0.8" stroke-linejoin="round"/>
<line x1="279.0" y1="270.0" x2="279.0" y2="251.6" stroke="#555" stroke-width="0.7"/>
<line x1="324.4" y1="244.0" x2="324.4" y2="231.0" stroke="#555" stroke-width="0.7"/>
<line x1="370.0" y1="277.0" x2="370.0" y2="257.4" stroke="#555" stroke-width="0.7"/>
<line x1="415.0" y1="251.0" x2="415.0" y2="237.4" stroke="#555" stroke-width="0.7"/>
<line x1="460.4" y1="230.0" x2="460.4" y2="221.6" stroke="#555" stroke-width="0.7"/>
<line x1="295.0" y1="256.2" x2="303.8" y2="260.9" stroke="#383838" stroke-width="0.75"/>
<line x1="297.0" y1="254.1" x2="306.1" y2="258.8" stroke="#777" stroke-width="0.7"/>
<circle cx="279.0" cy="270.0" r="2.2" fill="#fff" stroke="#555" stroke-width="0.8"/>
<circle cx="324.4" cy="244.0" r="2.2" fill="#fff" stroke="#555" stroke-width="0.8"/>
<circle cx="370.0" cy="277.0" r="2.2" fill="#fff" stroke="#555" stroke-width="0.8"/>
<circle cx="415.0" cy="251.0" r="2.2" fill="#fff" stroke="#555" stroke-width="0.8"/>
<circle cx="460.4" cy="230.0" r="2.2" fill="#fff" stroke="#555" stroke-width="0.8"/>
</svg>
</body></html>
